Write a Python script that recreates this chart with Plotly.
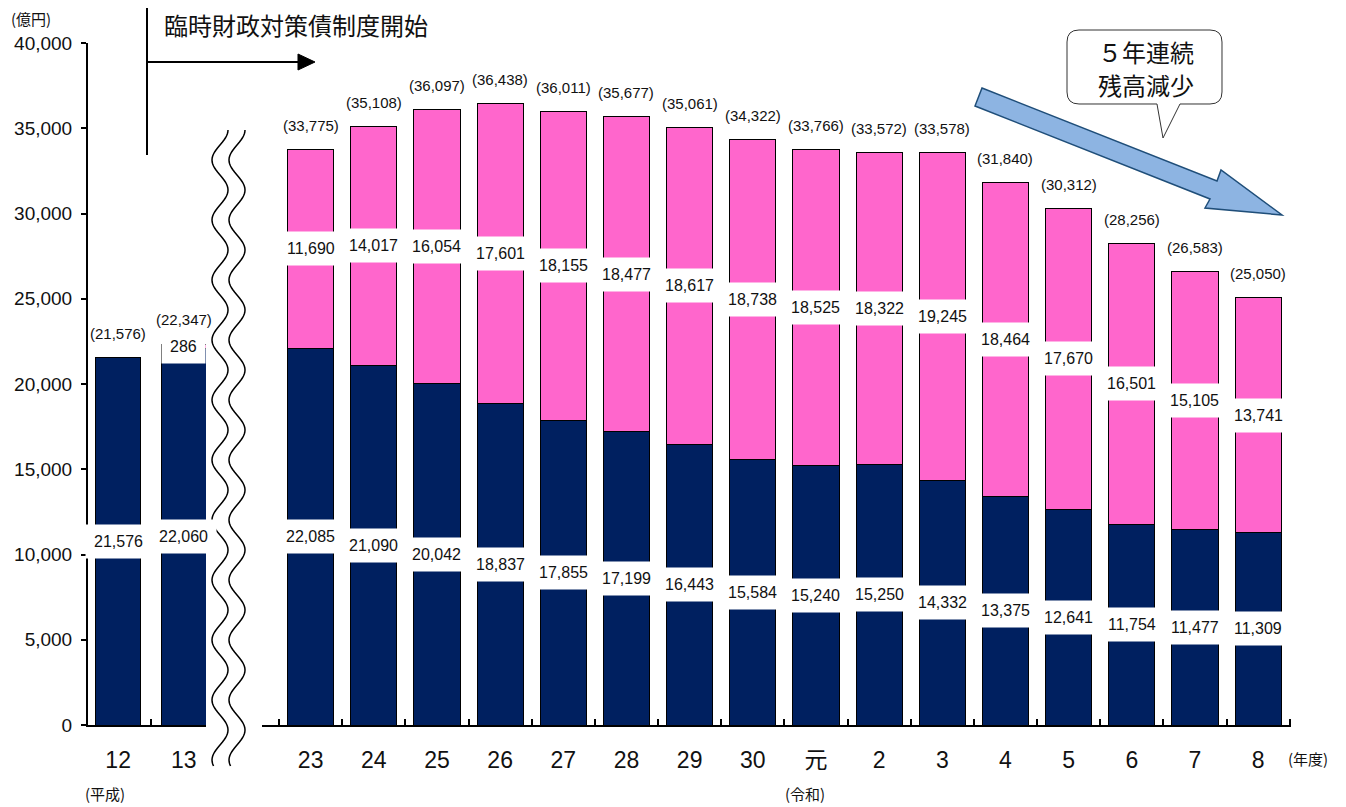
import math
import plotly.graph_objects as go

# ---------------- data ----------------
cats_left = ["12", "13"]
navy_left = [21576, 22060]
pink_left = [None, 286]
total_left = [21576, 22347]

cats_right = ["23", "24", "25", "26", "27", "28", "29", "30", "元",
              "2", "3", "4", "5", "6", "7", "8"]
navy_right = [22085, 21090, 20042, 18837, 17855, 17199, 16443, 15584,
              15240, 15250, 14332, 13375, 12641, 11754, 11477, 11309]
pink_right = [11690, 14017, 16054, 17601, 18155, 18477, 18617, 18738,
              18525, 18322, 19245, 18464, 17670, 16501, 15105, 13741]
total_right = [33775, 35108, 36097, 36438, 36011, 35677, 35061, 34322,
               33766, 33572, 33578, 31840, 30312, 28256, 26583, 25050]

y_ticks = [0, 5000, 10000, 15000, 20000, 25000, 30000, 35000, 40000]

# ---------------- style ----------------
OFF = 8                                  # page body margin
W, H = 1346 - OFF, 807 - OFF
# plot area in page pixels
PL, PR, PT, PB = 88, 1291, 43, 725
PW, PH = PR - PL, PB - PT
NAVY = "#002060"
PINK = "#FF66CC"
ARIAL = "Liberation Sans, Arial, Noto Sans CJK JP, sans-serif"
JP = "Noto Sans CJK JP, sans-serif"


def fx(x):
    return (x - PL) / PW


def fy(y):
    return (PB - y) / PH


def path(cmds):
    out = []
    for c in cmds:
        if isinstance(c, str):
            out.append(c)
        else:
            out.append(f"{fx(c[0]):.5f},{fy(c[1]):.5f}")
    return " ".join(out)


fig = go.Figure()

fig.add_trace(go.Bar(x=cats_left, y=navy_left, xaxis="x", yaxis="y",
                     marker=dict(color=NAVY, line=dict(color="black", width=1)),
                     width=0.69, showlegend=False))
fig.add_trace(go.Bar(x=cats_left, y=pink_left, xaxis="x", yaxis="y",
                     marker=dict(color=PINK, line=dict(color="black", width=1)),
                     width=0.69, showlegend=False))
fig.add_trace(go.Bar(x=cats_right, y=navy_right, xaxis="x2", yaxis="y",
                     marker=dict(color=NAVY, line=dict(color="black", width=1)),
                     width=0.73, showlegend=False))
fig.add_trace(go.Bar(x=cats_right, y=pink_right, xaxis="x2", yaxis="y",
                     marker=dict(color=PINK, line=dict(color="black", width=1)),
                     width=0.73, showlegend=False))

ann = []


def label(xref, i, y, text, box=True, yshift=0):
    d = dict(xref=xref, yref="y", x=i, y=y, text=text, showarrow=False,
             font=dict(family=ARIAL, size=16, color="#111"),
             xanchor="center", yanchor="middle", yshift=yshift)
    if box:
        d.update(bgcolor="white", borderpad=8)
    else:
        d["font"] = dict(family=ARIAL, size=15, color="#111")
    ann.append(d)


for xref, navy, pink, total in (("x", navy_left, pink_left, total_left),
                                ("x2", navy_right, pink_right, total_right)):
    for i in range(len(navy)):
        label(xref, i, navy[i] / 2, f"{navy[i]:,}")
        if pink[i]:
            label(xref, i, navy[i] + pink[i] / 2, f"{pink[i]:,}")
        label(xref, i, total[i], f"({total[i]:,})", box=False, yshift=24)


def ptext(x, y, text, size, anchor="left"):
    ann.append(dict(xref="paper", yref="paper", x=fx(x), y=fy(y), text=text,
                    showarrow=False, xanchor=anchor, yanchor="middle",
                    font=dict(family=JP, size=size, color="#111")))


ptext(9, 18, "(億円)", 15)
ptext(162, 24, "臨時財政対策債制度開始", 24)
ptext(1146, 52, "５年連続", 24, "center")
ptext(1146, 85, "残高減少", 24, "center")
ptext(1286, 758, "(年度)", 15)
ptext(83, 794, "(平成)", 15)
ptext(783, 794, "(令和)", 15)

shapes = []
# start marker: vertical line + arrow
shapes.append(dict(type="line", xref="paper", yref="paper",
                   x0=fx(147), x1=fx(147), y0=fy(8), y1=fy(155),
                   line=dict(color="black", width=2)))
shapes.append(dict(type="line", xref="paper", yref="paper",
                   x0=fx(147), x1=fx(300), y0=fy(62), y1=fy(62),
                   line=dict(color="black", width=2)))
shapes.append(dict(type="path", xref="paper", yref="paper",
                   path=path(["M", (298, 54), "L", (315, 62), "L", (298, 70), "Z"]),
                   fillcolor="black", line=dict(color="black", width=1)))

# wavy break lines
for xc in (220, 237):
    pts = []
    y = 130
    first = True
    while y <= 767:
        x = xc + 8 * math.sin(2 * math.pi * (y - 130) / 60 + math.pi / 2)
        pts += ["M" if first else "L", (x, y)]
        first = False
        y += 2
    shapes.append(dict(type="path", xref="paper", yref="paper", path=path(pts),
                       line=dict(color="black", width=1.5)))

# callout bubble
x0, x1, y0, y1, r = 1067, 1222, 30, 104, 12
shapes.append(dict(type="path", xref="paper", yref="paper", layer="below", path=path([
    "M", (x0 + r, y0), "L", (x1 - r, y0), "Q", (x1, y0), (x1, y0 + r),
    "L", (x1, y1 - r), "Q", (x1, y1), (x1 - r, y1),
    "L", (1180, y1), "L", (1163, 138), "L", (1157, y1),
    "L", (x0 + r, y1), "Q", (x0, y1), (x0, y1 - r),
    "L", (x0, y0 + r), "Q", (x0, y0), (x0 + r, y0), "Z"]),
    fillcolor="white", line=dict(color="#333", width=1)))

# big decreasing arrow
shapes.append(dict(type="path", xref="paper", yref="paper", path=path([
    "M", (982, 88), "L", (1217, 181), "L", (1221, 170), "L", (1282, 215),
    "L", (1205, 208), "L", (1210, 199), "L", (975, 106), "Z"]),
    fillcolor="#8DB4E2", line=dict(color="#1F4E79", width=1.5)))

axis_common = dict(type="category", showline=True, linecolor="black", linewidth=2,
                   ticks="inside", tickson="boundaries", ticklen=6, tickwidth=2,
                   tickcolor="black", showgrid=False, zeroline=False,
                   tickfont=dict(family=ARIAL, size=23, color="#111"),
                   ticklabelstandoff=13, anchor="y", fixedrange=True,
                   automargin=False)

fig.update_layout(
    width=W, height=H,
    margin=dict(l=PL - OFF, r=W - (PR - OFF), t=PT - OFF, b=H - (PB - OFF), pad=0,
                autoexpand=False),
    paper_bgcolor="white", plot_bgcolor="white",
    barmode="stack",
    xaxis=dict(axis_common, domain=[0, fx(206)], range=[-0.46, 1.34]),
    xaxis2=dict(axis_common, domain=[fx(262), 1], range=[-0.77, 15.52]),
    yaxis=dict(range=[0, 40000], tickvals=y_ticks,
               ticktext=[f"{v:,}" for v in y_ticks],
               showline=True, linecolor="black", linewidth=2,
               ticks="outside", ticklen=5, tickwidth=2, tickcolor="black",
               showgrid=False, zeroline=False, ticklabelstandoff=5,
               tickfont=dict(family=ARIAL, size=19, color="#111"), fixedrange=True,
               automargin=False),
    annotations=ann,
    shapes=shapes,
)

fig.write_html("out.html")
